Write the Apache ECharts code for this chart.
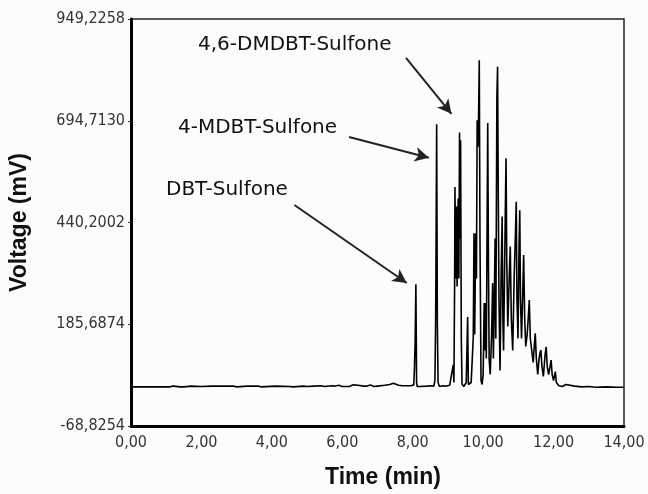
<!DOCTYPE html>
<html>
<head>
<meta charset="utf-8">
<script src="https://cdn.jsdelivr.net/npm/echarts@6/dist/echarts.min.js"></script>
<style>
  html, body { margin: 0; padding: 0; background: #fcfcfc; }
  #chromatogram-chart { width: 648px; height: 494px; }
</style>
</head>
<body>
<div id="chromatogram-chart"></div>
<script>
// retention time (min) and detector voltage (mV)
const times = [
  0, 0.35, 0.4, 0.45, 0.65, 0.7, 0.75, 1.1, 1.15, 1.2, 1.25, 1.4, 1.45, 1.5, 1.7, 1.75,
  2.0, 2.3, 2.35, 2.6, 2.65, 2.9, 3.0, 3.3, 3.35, 3.6, 3.7, 4.1, 4.15, 4.5, 4.55, 4.6,
  4.9, 5.0, 5.2, 5.4, 5.5, 5.7, 5.8, 5.9, 6.0, 6.2, 6.3, 6.35, 6.45, 6.6, 6.7, 6.8,
  6.9, 7.0, 7.2, 7.35, 7.45, 7.5, 7.6, 7.7, 7.95,
  8.03, 8.05, 8.07, 8.09, 8.11, 8.13, 8.2, 8.4, 8.5, 8.6,
  8.63, 8.65, 8.66, 8.68, 8.70, 8.72, 8.76, 8.85, 8.95, 9.05,
  9.10, 9.15, 9.17, 9.19, 9.20, 9.22, 9.24, 9.26, 9.29, 9.31, 9.33, 9.35, 9.36, 9.38, 9.40, 9.45,
  9.52, 9.56, 9.58, 9.62, 9.66, 9.70, 9.72, 9.74, 9.76, 9.79, 9.81, 9.83, 9.85, 9.87, 9.89, 9.91,
  9.94, 9.97, 10.00, 10.03, 10.05, 10.07, 10.09, 10.11, 10.13, 10.15, 10.17, 10.20, 10.24, 10.27,
  10.29, 10.31, 10.34, 10.36, 10.39, 10.41, 10.43, 10.45, 10.48, 10.51, 10.54, 10.56, 10.58, 10.62,
  10.65, 10.67, 10.70, 10.74, 10.77, 10.80, 10.84, 10.88, 10.92, 10.94, 10.96, 10.99, 11.02, 11.04,
  11.06, 11.09, 11.12, 11.15, 11.18, 11.21, 11.25, 11.28, 11.31, 11.34, 11.42, 11.46, 11.48, 11.51,
  11.55, 11.59, 11.62, 11.64, 11.67, 11.71, 11.76, 11.79, 11.82, 11.86, 11.90, 11.93, 11.96, 12.00,
  12.05, 12.08, 12.15, 12.25, 12.35, 12.4, 12.6, 12.8, 13.0, 13.2, 13.5, 13.8, 14.0
]
const voltages = [
  29, 29, 31, 29, 29, 32, 29, 29, 24, 31, 29, 29, 31, 29, 31, 29,
  30, 31, 29, 31, 29, 31, 29, 31, 29, 31, 29, 31, 29, 30, 32, 29,
  31, 30, 31, 32, 30, 32, 31, 33, 30, 30, 34, 38, 33, 31, 31, 34,
  30, 31, 33, 35, 38, 33, 33, 32, 32,
  34, 76, 146, 286, 40, 30, 30, 31, 32, 31,
  45, 184, 326, 686, 184, 40, 30, 32, 31, 33,
  30, 84, 40, 289, 529, 300, 480, 280, 500, 300, 665, 400, 646, 150, 36, 30,
  40, 204, 35, 30, 40, 38, 154, 413, 160, 413, 300, 696, 629, 700, 846, 400,
  45, 35, 60, 239, 120, 239, 100, 400, 689, 350, 100, 60, 160, 289,
  100, 200, 400, 150, 755, 830, 500, 250, 70, 300, 455, 200, 120, 400,
  601, 350, 180, 300, 380, 200, 120, 300, 420, 492, 250, 150, 380, 471,
  250, 150, 250, 359, 200, 130, 160, 200, 246, 150, 90, 140, 163, 100,
  60, 100, 115, 121, 80, 55, 110, 129, 80, 60, 80, 96, 60, 45,
  67, 40, 32, 30, 35, 30, 31, 29, 30, 28, 29, 28, 28
]
// axis settings
const yMin = -68.8254
const yMax = 949.2258
const yStep = 254.5128
// peak annotations: label, arrow start [t, mV], arrow tip [t, mV]
const peakNames = ['4,6-DMDBT-Sulfone', '4-MDBT-Sulfone', 'DBT-Sulfone']
const arrowFrom = [[7.81, 852], [6.19, 654], [4.64, 484]]
const arrowTo = [[9.10, 712], [8.46, 602], [7.83, 289]]

const chart = echarts.init(document.getElementById('chromatogram-chart'))
const tickFont = '"DejaVu Sans Condensed", "Liberation Sans Narrow", "Liberation Sans", sans-serif'
const labelFont = '20px "DejaVu Sans", sans-serif'

const option = {
  backgroundColor: '#fcfcfc',
  animation: false,
  grid: {
    left: 129,
    top: 19,
    right: 24,
    bottom: 68,
    show: true,
    borderColor: '#222',
    borderWidth: 1.5,
    backgroundColor: 'transparent',
  },
  xAxis: {
    type: 'value',
    min: 0,
    max: 14,
    interval: 2,
    name: 'Time (min)',
    nameLocation: 'middle',
    nameGap: 40,
    nameTextStyle: {
      fontFamily: 'Liberation Sans, Arial, sans-serif',
      fontWeight: 'bold',
      fontSize: 23,
      color: '#111',
      padding: [0, 0, 0, 11],
    },
    axisLine: { show: true, onZero: false, lineStyle: { color: '#000', width: 3 } },
    axisTick: { show: false },
    splitLine: { show: false },
    axisLabel: {
      margin: 9,
      fontFamily: tickFont,
      fontSize: 16,
      color: '#333',
      formatter: v => v.toFixed(2).replace('.', ','),
    },
  },
  yAxis: {
    type: 'value',
    min: yMin,
    max: yMax,
    interval: yStep,
    name: 'Voltage (mV)',
    nameLocation: 'middle',
    nameGap: 100,
    nameTextStyle: {
      fontFamily: 'Liberation Sans, Arial, sans-serif',
      fontWeight: 'bold',
      fontSize: 23,
      color: '#111',
    },
    axisLine: { show: true, onZero: false, lineStyle: { color: '#000', width: 3 } },
    axisTick: { show: true, length: 3, lineStyle: { color: '#333', width: 1 } },
    splitLine: { show: false },
    axisLabel: {
      margin: 6,
      fontFamily: tickFont,
      fontSize: 16,
      color: '#333',
      formatter: v => v.toFixed(4).replace('.', ','),
    },
  },
  series: [
    {
      type: 'line',
      data: times.map((t, i) => [t, voltages[i]]),
      showSymbol: false,
      sampling: null,
      lineStyle: { color: '#000', width: 1.6 },
      markLine: {
        silent: true,
        symbol: ['none', 'arrow'],
        symbolSize: [11, 14],
        label: { show: false },
        lineStyle: { color: '#222', width: 2, type: 'solid' },
        data: arrowFrom.map((p, i) => [{ coord: p }, { coord: arrowTo[i] }]),
      },
    },
  ],
  graphic: [
    { type: 'text', left: 198, top: 35, style: { text: peakNames[0], font: labelFont, fill: '#111' } },
    { type: 'text', left: 178, top: 118, style: { text: peakNames[1], font: labelFont, fill: '#111' } },
    { type: 'text', left: 166, top: 180, style: { text: peakNames[2], font: labelFont, fill: '#111' } },
  ],
}
chart.setOption(option)
</script>
</body>
</html>
